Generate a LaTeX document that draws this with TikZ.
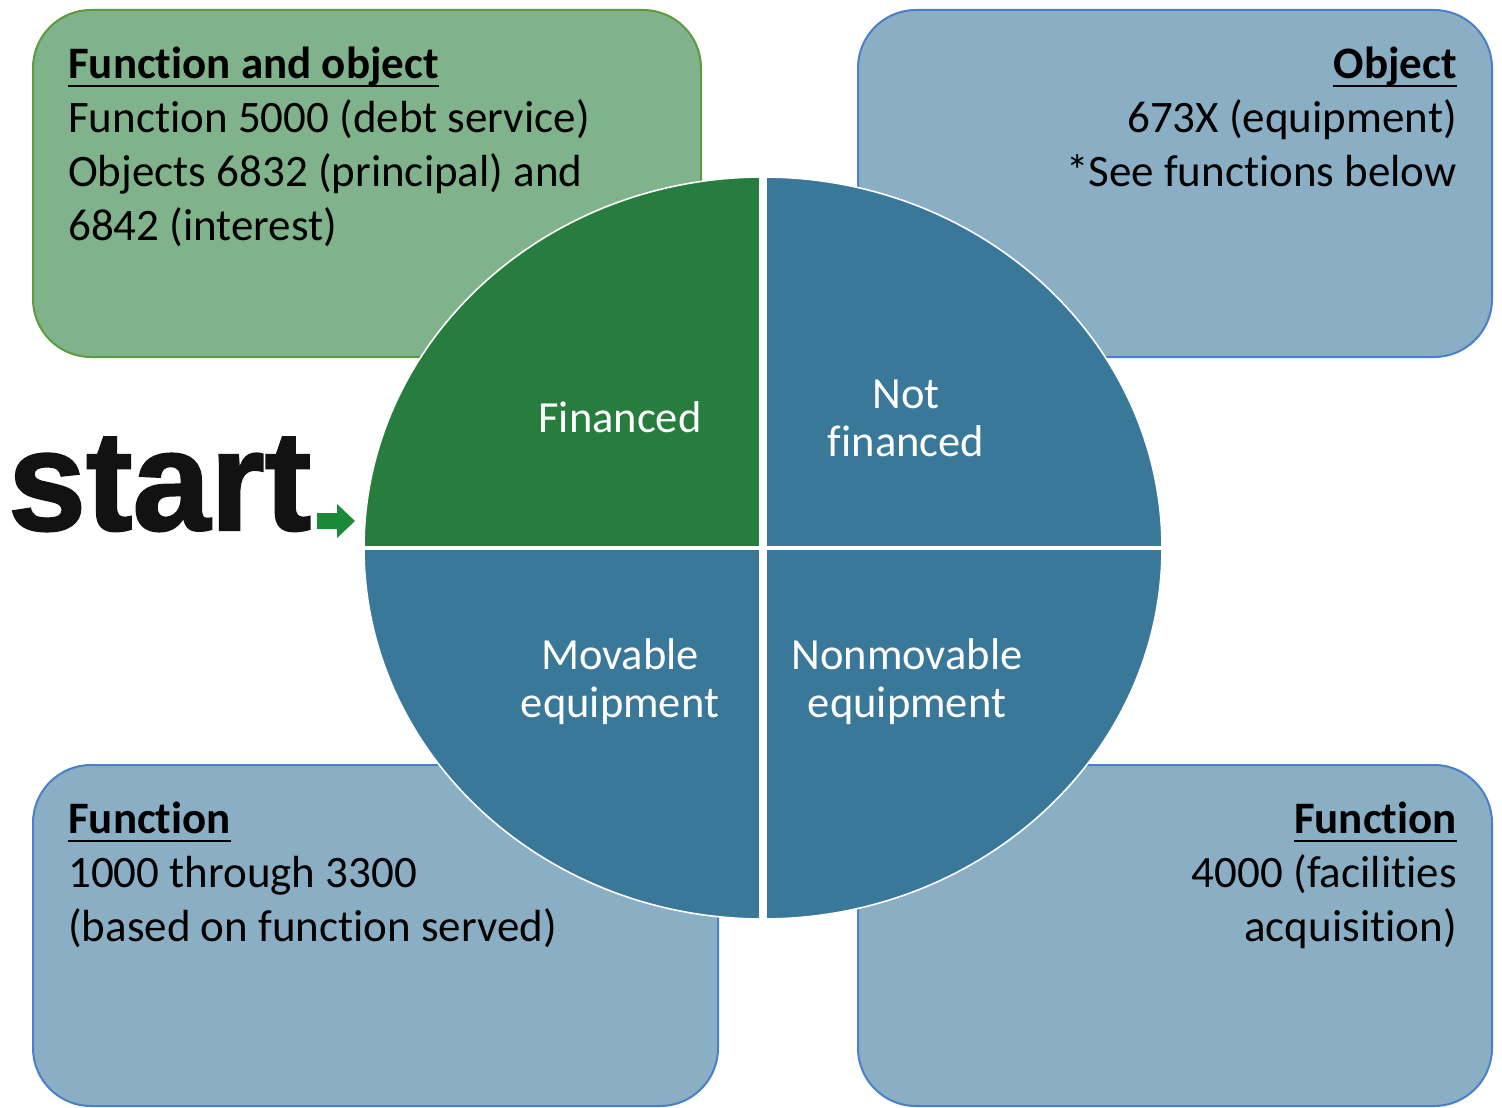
\documentclass[tikz,border=0pt]{standalone}
\usepackage{fontspec}
\setmainfont[Ligatures={NoCommon}]{Carlito}
\newfontfamily\logofont[BoldFeatures={FakeBold=1.6}]{Liberation Sans}
\definecolor{gbox}{HTML}{80B28B}
\definecolor{gline}{HTML}{5E9A40}
\definecolor{bbox}{HTML}{8AAFC5}
\definecolor{bline}{HTML}{4A7FC9}
\definecolor{gpie}{HTML}{267D3E}
\definecolor{bpie}{HTML}{3A7899}
\definecolor{arrowg}{HTML}{1B8A36}
\begin{document}
\begin{tikzpicture}[x=1pt,y=-1pt,
  infobox/.style={line width=2pt, rounded corners=58pt},
  boxtxt/.style={font=\fontsize{45}{54}\selectfont, inner sep=0pt, text=black},
  hdrtxt/.style={font=\fontsize{45}{54}\selectfont\bfseries, inner sep=0pt, text=black},
  pietxt/.style={font=\fontsize{44.5}{48}\selectfont, inner sep=0pt, text=white},
  ul/.style={line width=2.6pt, black},
  gap/.style={white}]
\useasboundingbox (0,0) rectangle (1502,1108);
\fill[white] (0,0) rectangle (1502,1108);
% boxes
\draw[infobox, fill=gbox, draw=gline] (33,10) rectangle (701,357);
\draw[infobox, fill=bbox, draw=bline] (858,10) rectangle (1492,357);
\draw[infobox, fill=bbox, draw=bline] (33,765) rectangle (718,1106);
\draw[infobox, fill=bbox, draw=bline] (858,765) rectangle (1492,1106);
% box texts
\node[hdrtxt, anchor=base west] (h1) at (68,78) {Function and object};
\draw[ul] ([yshift=-8pt]h1.base west) -- ([yshift=-8pt]h1.base east);
\node[boxtxt, anchor=base west] (t1a) at (68,132) {Function 5000 (debt service)};
\node[boxtxt, anchor=base west] (t1b) at (68,186) {Objects 6832 (principal) and};
\node[boxtxt, anchor=base west] (t1c) at (68,240) {6842 (interest)};
\node[hdrtxt, anchor=base east] (h2) at (1457,78) {Object};
\draw[ul] ([yshift=-8pt]h2.base west) -- ([yshift=-8pt]h2.base east);
\node[boxtxt, anchor=base east] (t2a) at (1457,132) {673X (equipment)};
\node[boxtxt, anchor=base east] (t2b) at (1457,186) {*See functions below};
\node[hdrtxt, anchor=base west] (h3) at (68,833) {Function};
\draw[ul] ([yshift=-8pt]h3.base west) -- ([yshift=-8pt]h3.base east);
\node[boxtxt, anchor=base west] (t3a) at (68,887) {1000 through 3300};
\node[boxtxt, anchor=base west] (t3b) at (68,941) {(based on function served)};
\node[hdrtxt, anchor=base east] (h4) at (1457,833) {Function};
\draw[ul] ([yshift=-8pt]h4.base west) -- ([yshift=-8pt]h4.base east);
\node[boxtxt, anchor=base east] (t4a) at (1457,887) {4000 (facilities};
\node[boxtxt, anchor=base east] (t4b) at (1457,941) {acquisition)};
% pie
\fill[bpie] (763,548) ellipse [x radius=399pt, y radius=371pt];
\begin{scope}
  \clip (363,170) rectangle (763,548);
  \fill[gpie] (763,548) ellipse [x radius=399pt, y radius=371pt];
\end{scope}
\draw[gap, line width=1.6pt] (763,548) ellipse [x radius=399pt, y radius=371pt];
\begin{scope}
  \clip (763,548) ellipse [x radius=400pt, y radius=372pt];
  \draw[gap, line width=8pt] (763,170) -- (763,930);
  \draw[gap, line width=4pt] (355,548) -- (1170,548);
\end{scope}
\node[pietxt, anchor=base] (q1) at (620,432) {Financed};
\node[pietxt, anchor=base] (q2a) at (906,408) {Not};
\node[pietxt, anchor=base] (q2b) at (906,456) {financed};
\node[pietxt, anchor=base] (q3a) at (620,669) {Movable};
\node[pietxt, anchor=base] (q3b) at (620,717) {equipment};
\node[pietxt, anchor=base] (q4a) at (907,669) {Nonmovable};
\node[pietxt, anchor=base] (q4b) at (907,717) {equipment};
% start logo
\node[inner sep=0pt, anchor=base west, xscale=0.985, text=black!93,
  font=\fontsize{142}{142}\selectfont\logofont\bfseries] (start) at (8,530) {start};
\fill[arrowg] (317,513) -- (337,513) -- (337,504) -- (355,521) -- (337,538) -- (337,529) -- (317,529) -- cycle;
\end{tikzpicture}
\end{document}
